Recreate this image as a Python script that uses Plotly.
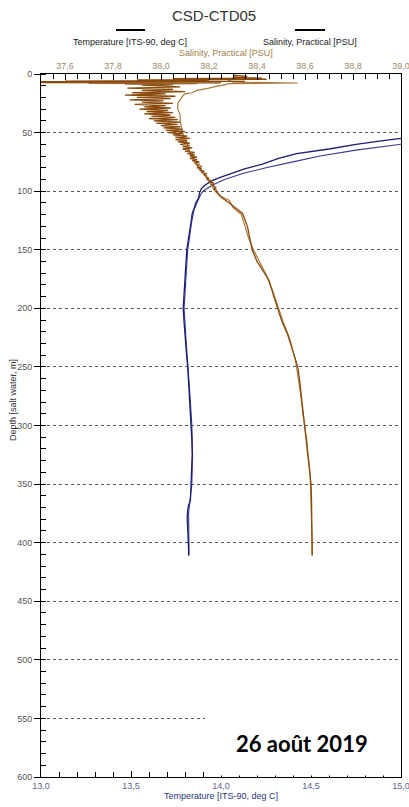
import plotly.graph_objects as go

# ---------------- data ----------------
# Temperature, downcast (darker navy)
temp_depth_a = [1, 10, 30, 45, 52, 55, 57, 60, 64, 68, 72, 77, 81, 85, 88, 91, 95, 98, 102, 106,
                110, 115, 119, 125, 130, 140, 150, 162, 175, 188, 200, 212, 225, 238, 250, 262, 275,
                288, 300, 312, 325, 338, 350, 358, 364, 368, 372, 378, 385, 392, 400, 406, 411]
temp_val_a = [25.5, 25.0, 22.0, 17.0, 15.3, 15.0, 14.89, 14.75, 14.60, 14.42, 14.32, 14.23, 14.13,
              14.05, 14.00, 13.95, 13.91, 13.89, 13.88, 13.875,
              13.86, 13.85, 13.84, 13.835, 13.83, 13.82, 13.81, 13.805, 13.80, 13.795, 13.79, 13.795,
              13.80, 13.808, 13.815, 13.82, 13.825, 13.83, 13.835, 13.838, 13.84, 13.838, 13.835,
              13.833, 13.83, 13.82, 13.815, 13.812, 13.815, 13.818, 13.82, 13.82, 13.82]
# Temperature, upcast (lighter navy)
temp_depth_b = [1, 10, 30, 45, 55, 60, 65, 70, 75, 80, 85, 90, 95, 100, 105, 110, 116, 120, 128, 140,
                150, 175, 200, 225, 250, 275, 300, 325, 350, 375, 400, 411]
temp_val_b = [25.4, 24.8, 21.5, 17.5, 15.5, 15.0, 14.75, 14.55, 14.40, 14.25, 14.12, 14.02, 13.95,
              13.90, 13.88, 13.865, 13.85, 13.845, 13.835, 13.825, 13.815, 13.805, 13.795, 13.805,
              13.818, 13.828, 13.838, 13.842, 13.838, 13.82, 13.822, 13.822]

# Salinity, downcast (dark brown, noisy near surface)
sal_depth_a = [1, 2, 3, 3.5, 4, 4.5, 5, 5.5, 6, 6.3, 6.6, 7, 7.3, 7.6, 8, 8.3, 8.6, 9, 9.5, 10,
               11, 12, 13, 14, 15, 16, 17, 18, 19, 20, 21, 22, 23, 24, 25, 26, 27, 28, 29, 30,
               31, 32, 33, 34, 35, 36, 37, 38, 39, 40, 41, 42, 43, 44, 45, 46, 47, 48, 49, 50,
               51, 52, 53, 54, 55, 56, 57, 58, 59, 60, 61, 62, 63, 64, 65, 66, 67, 68, 69, 70,
               71, 72, 73, 74, 75, 76, 77, 78, 79, 80, 81, 82, 83, 84, 85, 86, 87, 88, 89, 90,
               91, 92, 93, 94, 95, 96, 97, 98, 99, 100,
               105, 111, 119, 130, 140, 150, 160, 176, 190, 200, 212, 222, 236, 250, 262, 275,
               288, 300, 311, 321, 335, 350, 362, 375, 388, 400, 411]
sal_val_a = [38.30, 38.36, 38.30, 38.42, 38.05, 38.44, 37.90, 38.20, 37.60, 38.35, 37.45, 38.10,
             37.48, 38.25, 37.70, 38.15, 37.85, 38.05, 37.92, 38.00,
             38.08, 37.86, 38.05, 37.92, 38.10, 37.88, 38.02, 37.85, 38.06, 37.90,
             38.04, 37.87, 38.01, 37.92, 38.05, 37.89, 38.02, 37.93, 38.04, 37.91,
             38.03, 37.94, 38.05, 37.93, 38.04, 37.96, 38.06, 37.95, 38.07, 37.97,
             38.08, 37.98, 38.07, 38.00, 38.08, 38.01, 38.09, 38.02, 38.10, 38.03,
             38.09, 38.05, 38.11, 38.06, 38.12, 38.06, 38.11, 38.07, 38.12, 38.08,
             38.12, 38.09, 38.13, 38.09, 38.12, 38.10, 38.14, 38.11, 38.14, 38.12,
             38.15, 38.12, 38.15, 38.13, 38.16, 38.14, 38.16, 38.15, 38.17, 38.15,
             38.17, 38.16, 38.18, 38.17, 38.19, 38.18, 38.19, 38.19, 38.20, 38.19,
             38.21, 38.20, 38.22, 38.21, 38.22, 38.22, 38.23, 38.22, 38.23, 38.23,
             38.25, 38.29, 38.34, 38.36, 38.37, 38.38, 38.40, 38.45, 38.47, 38.485, 38.505,
             38.527, 38.55, 38.57, 38.578, 38.585, 38.592, 38.597, 38.604, 38.61, 38.618,
             38.625, 38.627, 38.628, 38.628, 38.629, 38.63]
# Salinity, upcast (lighter brown, smoother)
sal_depth_b = [1, 3, 5, 7, 7.7, 8.2, 9, 10, 11, 12, 13, 14, 15, 16, 17, 19, 22, 25, 30, 35, 40,
               45, 50, 55, 60, 65, 70, 75, 80, 85, 90, 95, 100, 104, 108, 114, 120, 130, 140, 150,
               160, 172, 185, 200, 212, 225, 240, 250, 262, 275, 288, 300, 312, 325, 338, 350,
               365, 380, 395, 411]
sal_val_b = [38.30, 38.32, 38.28, 38.30, 38.57, 38.28, 38.27, 38.24, 38.22, 38.20, 38.17, 38.15,
             38.14, 38.13, 38.10, 38.09, 38.08, 38.07, 38.07, 38.08, 38.08, 38.085, 38.09, 38.10,
             38.11, 38.115, 38.13, 38.14, 38.155, 38.175, 38.195, 38.21, 38.225, 38.245, 38.285,
             38.30, 38.335, 38.35, 38.365, 38.385, 38.41, 38.44, 38.465, 38.49, 38.51, 38.535,
             38.555, 38.565, 38.575, 38.583, 38.59, 38.6, 38.607, 38.613, 38.62, 38.623, 38.626,
             38.628, 38.629, 38.63]

depth_ticks = [0, 50, 100, 150, 200, 250, 300, 350, 400, 450, 500, 550, 600]
temp_ticks = [13.0, 13.5, 14.0, 14.5, 15.0]
sal_ticks = [37.6, 37.8, 38.0, 38.2, 38.4, 38.6, 38.8, 39.0]

title_text = "CSD-CTD05"
temp_label = "Temperature [ITS-90, deg C]"
sal_label = "Salinity, Practical [PSU]"
depth_label = "Depth [salt water, m]"
date_text = "26 août 2019"

# ---------------- figure ----------------
W, H = 409, 807
ML, MR, MT, MB = 41, 8, 74, 30
PW, PH = W - ML - MR, H - MT - MB


def px(xp):
    return (xp - ML) / PW


def py(yp):
    return (H - MB - yp) / PH


FONT = "Liberation Sans, Arial, sans-serif"
NAVY = "#1c1c78"
NAVY2 = "#3a3a92"
BROWN = "#8a4a0c"
BROWN2 = "#a8783a"

fig = go.Figure()
fig.add_trace(go.Scatter(x=sal_val_b, y=sal_depth_b, xaxis="x2", yaxis="y", mode="lines",
                         line=dict(color=BROWN2, width=1.2), showlegend=False))
fig.add_trace(go.Scatter(x=sal_val_a, y=sal_depth_a, xaxis="x2", yaxis="y", mode="lines",
                         line=dict(color=BROWN, width=1.3), showlegend=False))
fig.add_trace(go.Scatter(x=temp_val_b, y=temp_depth_b, xaxis="x", yaxis="y", mode="lines",
                         line=dict(color=NAVY2, width=1.1), showlegend=False))
fig.add_trace(go.Scatter(x=temp_val_a, y=temp_depth_a, xaxis="x", yaxis="y", mode="lines",
                         line=dict(color=NAVY, width=1.3), showlegend=False))

fig.update_layout(
    width=W, height=H,
    margin=dict(l=ML, r=MR, t=MT, b=MB, pad=0, autoexpand=False),
    paper_bgcolor="white", plot_bgcolor="white",
    separators=", ",
    font=dict(family=FONT, size=9, color="#333333"),
    showlegend=False,
    xaxis=dict(
        range=[13.0, 15.0], tickvals=temp_ticks, tickformat=".1f",
        showline=True, linecolor="black", linewidth=1,
        ticks="inside", ticklen=6, tickcolor="black",
        minor=dict(dtick=0.1, ticks="inside", ticklen=5, tickcolor="black"),
        showgrid=False, zeroline=False, ticklabeloverflow="allow", automargin=False,
        tickfont=dict(size=9, color="#5a6490"),
        title=dict(text=temp_label, font=dict(size=9, color="#2a3480"), standoff=2),
    ),
    xaxis2=dict(
        range=[37.5, 39.0], tickvals=sal_ticks, tickformat=".1f",
        overlaying="x", side="top", anchor="y",
        showline=True, linecolor="black", linewidth=1,
        ticks="inside", ticklen=6, tickcolor="black",
        minor=dict(dtick=0.05, tick0=37.5, ticks="inside", ticklen=5, tickcolor="black"),
        showgrid=False, zeroline=False, ticklabeloverflow="allow", automargin=False,
        tickfont=dict(size=9, color="#a08a68"),
    ),
    yaxis=dict(
        range=[600, 0], tickvals=depth_ticks,
        showline=True, linecolor="black", linewidth=1, mirror=True,
        ticks="outside", ticklen=6, tickcolor="black",
        minor=dict(dtick=10, ticks="inside", ticklen=5, tickcolor="black"),
        showgrid=True, gridcolor="#555555", gridwidth=1, griddash="3px,3px",
        zeroline=False, ticklabeloverflow="allow", automargin=False,
        tickfont=dict(size=9, color="#555555"),
    ),
)

# white box behind the date label (hides grid / ticks like the reference)
fig.add_shape(type="rect", xref="paper", yref="paper",
              x0=px(205), x1=px(399.5), y0=py(775.5), y1=py(700),
              fillcolor="white", line=dict(width=0), layer="above")

# legend-like header (line above text)
fig.add_shape(type="line", xref="paper", yref="paper", x0=px(116), x1=px(145), y0=py(30), y1=py(30),
              line=dict(color="black", width=2))
fig.add_shape(type="line", xref="paper", yref="paper", x0=px(295), x1=px(325), y0=py(30), y1=py(30),
              line=dict(color="black", width=2))

ann = [
    dict(text=title_text, x=px(214), y=py(16), font=dict(size=15, color="#333333")),
    dict(text=temp_label, x=px(130), y=py(42), font=dict(size=9, color="#222222")),
    dict(text=sal_label, x=px(310), y=py(42), font=dict(size=9, color="#222222")),
    dict(text=sal_label, x=px(226), y=py(53), font=dict(size=9, color="#a0804a")),
    dict(text=depth_label, x=px(13), y=py(400), textangle=-90, font=dict(size=9, color="#333333")),
    dict(text="<b>" + date_text + "</b>", x=px(302), y=py(743),
         font=dict(size=22, color="black", family="Lato, Carlito, sans-serif")),
]
for a in ann:
    fig.add_annotation(xref="paper", yref="paper", showarrow=False,
                       xanchor="center", yanchor="middle", **a)

fig.write_html("out.html")
